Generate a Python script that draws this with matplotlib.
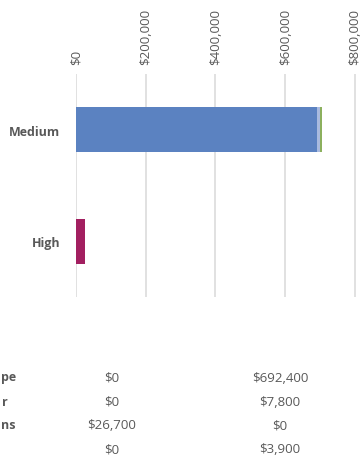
import numpy as np
import matplotlib
matplotlib.use("Agg")
import matplotlib.pyplot as plt
from matplotlib.ticker import FuncFormatter

plt.rcParams['font.family'] = ['Open Sans', 'DejaVu Sans']

# --- data ---
categories = ["High", "Medium"]
series_names = ["Pipe", "Meter", "Mains", "Other"]
pipe = [0, 692400]
meter = [0, 7800]
mains = [26700, 0]
other = [0, 3900]
series_values = [pipe, meter, mains, other]
series_colors = ["#5B82C1", "#A9BADF", "#A21F60", "#8CB05E"]
x_ticks = [0, 200000, 400000, 600000, 800000]
# only the ends of the row labels are inside the cropped picture
row_label_parts = ["pe", "r", "ns", ""]

W, H = 360, 464
TXT = "#595959"


def fx(px):
    return px / W


def fy(py):
    return 1 - py / H


fig = plt.figure(figsize=(W / 100, H / 100), dpi=100)
# axes spans pixel x 75.7..360, y 75..298
ax = fig.add_axes([fx(75.7), fy(298), fx(360 - 75.7), (298 - 75) / H])

y = np.arange(len(categories))
left = np.zeros(len(categories))
for vals, col in zip(series_values, series_colors):
    vals = np.array(vals, dtype=float)
    ax.barh(y, vals, left=left, height=0.4, color=col, linewidth=0)
    left += vals

# $0 at 75.7 px, $800,000 at 355 px
ax.set_xlim(0, 800000 * (360 - 75.7) / (355 - 75.7))
ax.set_ylim(-0.5, 1.5)
ax.set_xticks(x_ticks)
ax.xaxis.set_major_formatter(FuncFormatter(lambda v, p: f"${v:,.0f}"))
ax.xaxis.tick_top()
ax.tick_params(axis='x', length=0, pad=7, labelsize=9.5, labelcolor=TXT,
               labelrotation=90)
ax.set_yticks(y)
ax.set_yticklabels(categories, fontsize=9, color=TXT, fontweight='bold')
ax.tick_params(axis='y', length=0, pad=11)
ax.grid(axis='x', color="#D9D9D9", linewidth=1.1)
ax.set_axisbelow(True)
for s in ax.spines.values():
    s.set_visible(False)

# --- data table under the chart (cropped at the left edge) ---
row_y = [378, 402, 426, 450]
label_left = [1, 2, 1, 0]
col_x = [112, 280]
for i, part in enumerate(row_label_parts):
    if part:
        fig.text(fx(label_left[i]), fy(row_y[i]), part, ha='left', va='center',
                 fontsize=9, color=TXT, fontweight='bold')
    for j in range(len(categories)):
        fig.text(fx(col_x[j]), fy(row_y[i]), f"${series_values[i][j]:,.0f}",
                 ha='center', va='center', fontsize=9.5, color=TXT)

fig.savefig("out.png", dpi=100)
